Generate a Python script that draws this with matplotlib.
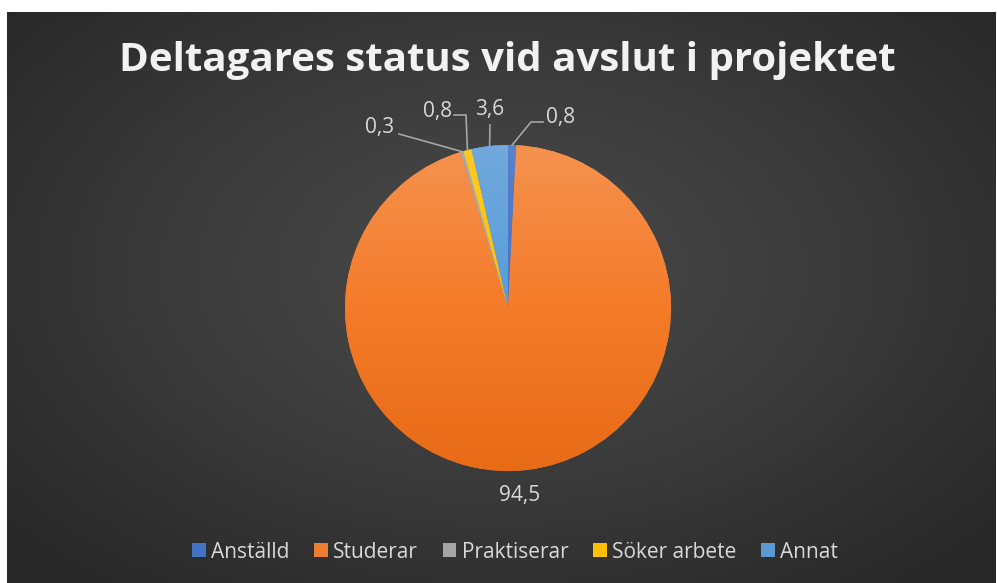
import numpy as np
import matplotlib.pyplot as plt
from matplotlib.colors import LinearSegmentedColormap, to_rgb, rgb_to_hsv, hsv_to_rgb
from matplotlib.patches import Patch

categories = ['Anställd', 'Studerar', 'Praktiserar', 'Söker arbete', 'Annat']
values = [0.8, 94.5, 0.3, 0.8, 3.6]
value_labels = ['0,8', '94,5', '0,3', '0,8', '3,6']
colors = ['#4472C4', '#ED7D31', '#A5A5A5', '#FFC000', '#5B9BD5']
title = 'Deltagares status vid avslut i projektet'

W, H = 997, 583
CX, CY, R = 508, 308, 163  # pie centre / radius in pixels
plt.rcParams['font.family'] = ['Open Sans', 'DejaVu Sans']

fig = plt.figure(figsize=(W / 100, H / 100), dpi=100, facecolor='white')

# dark radial background panel
bg = fig.add_axes([7 / W, 0, 988 / W, 571 / H])
bg.axis('off')
yy, xx = np.mgrid[0:1:300j, 0:1:500j]
rr = np.sqrt(((xx - 0.5) / 0.55) ** 2 + ((yy - 0.45) / 0.6) ** 2)
bg_cmap = LinearSegmentedColormap.from_list('bg', ['#4b4b4b', '#3b3b3b', '#282828'])
bg.imshow(rr, cmap=bg_cmap, vmin=0, vmax=1.2, aspect='auto', extent=[0, 1, 0, 1])

half = 215
ax = fig.add_axes([(CX - half) / W, (H - CY - half) / H, 2 * half / W, 2 * half / H])
wedges, _ = ax.pie(values, colors=colors, startangle=90, counterclock=False,
                   radius=1, wedgeprops=dict(linewidth=0))
lim = half / R
ax.set_xlim(-lim, lim)
ax.set_ylim(-lim, lim)
ax.axis('off')


def shade(c, ks, kv):
    h, s, v = rgb_to_hsv(np.array(to_rgb(c)))
    return hsv_to_rgb([h, min(1, s * ks), min(1, v * kv)])


# vertical gradient in each slice
grad = np.linspace(0, 1, 256).reshape(-1, 1)
for w, c in zip(wedges, colors):
    cm = LinearSegmentedColormap.from_list(
        'g', [shade(c, 0.85, 1.03), shade(c, 1.05, 1.03), shade(c, 1.14, 0.98)])
    im = ax.imshow(grad, cmap=cm, extent=[-1, 1, -1, 1], origin='upper', aspect='auto', zorder=2)
    im.set_clip_path(w)


def px(x, y):
    return (x - CX) / R, (CY - y) / R


# data labels with leader lines (layout in pixels)
label_px = [(546, 118, 'left'), (520, 496, 'center'), (394, 128, 'right'),
            (452, 111, 'right'), (490, 110, 'center')]
leader_px = [[(531, 122), (543, 122)], [], [(399, 134)], [(466, 115), (454, 115)], [(490, 125)]]

cum = np.cumsum([0] + values)
total = sum(values)
for i, v in enumerate(values):
    mid = 90 - (cum[i] + v / 2) / total * 360
    sx, sy = np.cos(np.radians(mid)), np.sin(np.radians(mid))
    if leader_px[i]:
        pts = [(sx, sy)] + [px(*p) for p in leader_px[i]]
        ax.plot([p[0] for p in pts], [p[1] for p in pts], color='#a6a6a6', lw=1.2, zorder=3)
    lx, ly, ha = label_px[i]
    ax.text(*px(lx, ly), value_labels[i], ha=ha, va='center', fontsize=15,
            color='#d9d9d9', zorder=4)

fig.text(507 / W, 1 - 61 / H, title, ha='center', va='center', fontsize=29,
         fontweight='bold', color='#f2f2f2')

handles = [Patch(facecolor=c) for c in colors]
fig.legend(handles, categories, loc='center', bbox_to_anchor=(515 / W, 1 - 552 / H),
           ncol=5, frameon=False, fontsize=15, labelcolor='#d9d9d9',
           handlelength=0.65, handleheight=0.65, handletextpad=0.25, columnspacing=1.2)

fig.savefig('out.png', dpi=100, facecolor='white')
